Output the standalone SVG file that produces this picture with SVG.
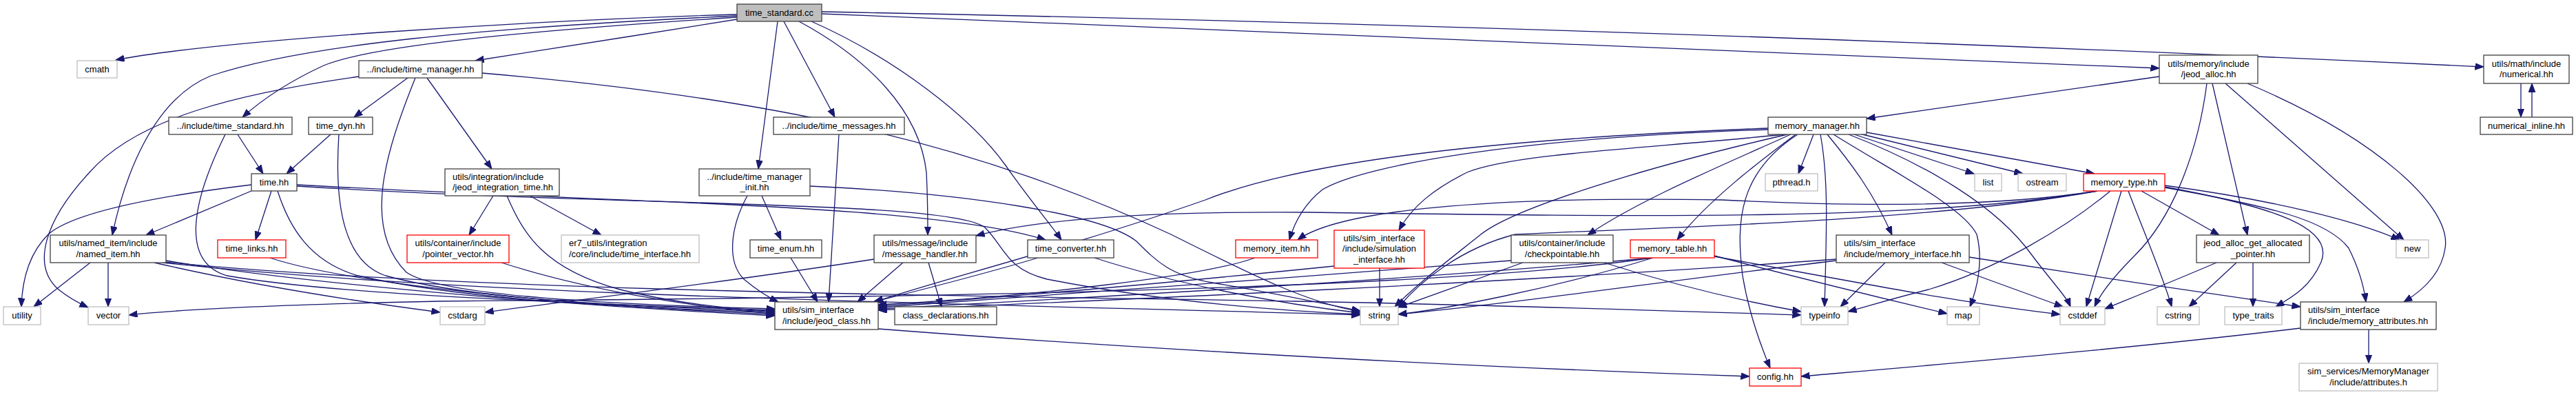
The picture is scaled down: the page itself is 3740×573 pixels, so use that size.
<svg xmlns="http://www.w3.org/2000/svg" width="3740" height="573" viewBox="0 0 3740 573">
<defs>
<marker id="ah" markerUnits="userSpaceOnUse" markerWidth="14" markerHeight="11" refX="12.5" refY="4.75" orient="auto"><path d="M0,0 L12.5,4.75 L0,9.5 Z" fill="#191970" stroke="#191970" stroke-width="1"/></marker>
</defs>
<style>
text{font-family:"Liberation Sans",Arial,Helvetica,sans-serif;font-size:13px;fill:#000}
.c{text-anchor:middle}
rect{stroke-width:1.3}
.n rect{fill:#fff;stroke:#404040}
.r rect{fill:#fff;stroke:#ff0000}
.g rect{fill:#fff;stroke:#bfbfbf}
.root rect{fill:#bfbfbf;stroke:#404040}
#edges path{fill:none;stroke:#191970;stroke-width:1.3;marker-end:url(#ah)}
</style>
<rect x="0" y="0" width="3740" height="573" fill="#fff"/>
<g id="edges">
<path d="M1070,21 C760,30 320,58 168,87"/>
<path d="M1070,28 C950,48 800,70 690,88"/>
<path d="M1070,25 C760,45 540,66 470,95 C420,118 380,145 352,170"/>
<path d="M1070,23 C700,40 440,65 306,110 C220,145 180,260 163,341"/>
<path d="M1129,31 L1101,245"/>
<path d="M1138,31 L1212,170"/>
<path d="M1160,31 C1260,85 1335,160 1345,250 C1347,290 1347,320 1347,341"/>
<path d="M1178,31 C1300,85 1410,170 1460,240 C1495,290 1525,325 1541,348"/>
<path d="M1193,20 L3135,99"/>
<path d="M1193,17 Q2400,40 3606,97"/>
<path d="M521,111 C350,135 200,170 130,250 C65,320 45,385 85,420 C100,432 115,440 128,446"/>
<path d="M592,113 L514,170"/>
<path d="M620,113 L714,245"/>
<path d="M603,113 C560,220 525,330 590,395 C640,430 900,442 1125,448"/>
<path d="M700,106 C1100,140 1400,200 1700,340 C1820,400 1900,440 1975,452"/>
<path d="M345,195 L382,252"/>
<path d="M327,195 C280,290 260,380 330,400 C500,430 900,442 1125,450"/>
<path d="M480,195 L416,252"/>
<path d="M492,195 C485,300 500,380 560,400 C700,438 950,445 1125,452"/>
<path d="M365,268 C250,282 110,305 70,340 C40,370 32,410 31,445"/>
<path d="M365,277 L212,341"/>
<path d="M394,277 L371,348"/>
<path d="M403,277 C420,330 450,380 520,400 C700,440 950,446 1125,454"/>
<path d="M431,268 C900,295 1350,295 1518,348"/>
<path d="M431,270 C900,300 1380,290 1430,330 C1460,360 1460,390 1520,405 C1700,440 1880,452 1975,456"/>
<path d="M392,374 C500,410 800,442 1125,456"/>
<path d="M131,381 L49,445"/>
<path d="M157,381 L157,445"/>
<path d="M224,381 C350,410 500,435 639,453"/>
<path d="M241,378 C500,420 900,447 1125,458"/>
<path d="M236,381 C700,432 1500,442 1975,457"/>
<path d="M238,380 C700,425 1500,430 1880,437 C2200,443 2450,452 2615,457"/>
<path d="M716,284 L681,341"/>
<path d="M769,284 L873,341"/>
<path d="M736,284 C760,340 790,390 900,420 C980,440 1060,448 1125,452"/>
<path d="M728,381 C850,420 1000,445 1125,455"/>
<path d="M1106,284 L1134,348"/>
<path d="M1085,284 C1060,330 1055,380 1080,405 C1098,420 1113,430 1130,438"/>
<path d="M1176,270 C1400,280 1600,310 1650,350 C1680,380 1700,400 1760,410 C1850,425 1920,440 1975,451"/>
<path d="M1148,374 L1187,438"/>
<path d="M1218,195 L1203,438"/>
<path d="M1269,376 C1050,410 800,440 704,453"/>
<path d="M1311,381 L1245,438"/>
<path d="M1348,381 L1367,445"/>
<path d="M1507,374 C1420,400 1320,425 1268,438"/>
<path d="M1589,374 C1700,410 1850,440 1975,454"/>
<path d="M3135,111 L2710,172"/>
<path d="M3212,121 L3263,341"/>
<path d="M3204,121 C3190,230 3150,320 3100,370 C3070,400 3050,425 3041,445"/>
<path d="M3231,121 L3490,348"/>
<path d="M3263,121 C3450,200 3560,300 3550,360 C3545,395 3520,420 3490,438"/>
<path d="M3660,121 L3660,170"/>
<path d="M3676,170 L3676,121"/>
<path d="M2567,186 C2200,200 1900,230 1750,290 C1550,360 1350,410 1270,438"/>
<path d="M2567,188 C2200,200 1980,240 1920,275 C1895,295 1880,320 1872,348"/>
<path d="M2590,195 C2400,215 2200,222 2130,250 C2080,275 2050,300 2031,334"/>
<path d="M2595,195 C2400,240 2200,300 2150,340 C2100,380 2060,410 2025,445"/>
<path d="M2600,195 C2500,240 2380,290 2305,341"/>
<path d="M2607,195 C2560,230 2480,290 2435,348"/>
<path d="M2633,195 L2611,252"/>
<path d="M2610,195 C2525,250 2520,320 2530,400 C2540,460 2560,510 2570,534"/>
<path d="M2643,195 C2655,260 2652,330 2649,445"/>
<path d="M2653,195 C2690,240 2720,280 2747,341"/>
<path d="M2662,195 C2750,250 2850,300 2870,340 C2880,380 2870,420 2860,445"/>
<path d="M2684,195 C2800,240 2900,300 2950,370 C2980,410 3000,430 3006,445"/>
<path d="M2692,195 L2866,252"/>
<path d="M2700,194 L2937,252"/>
<path d="M2710,192 L3041,252"/>
<path d="M3045,277 C2900,300 2700,300 2500,290 C2200,285 1950,300 1884,348"/>
<path d="M3045,277 C2800,320 2400,315 1900,308 C1650,306 1500,320 1417,342"/>
<path d="M3045,277 C2800,322 2400,330 2200,340 C2120,360 2060,410 2030,446"/>
<path d="M3064,277 C3000,330 2900,390 2800,420 C2740,435 2710,445 2683,452"/>
<path d="M3080,277 L3029,445"/>
<path d="M3109,277 L3222,341"/>
<path d="M3090,277 C3110,330 3140,400 3153,445"/>
<path d="M3143,271 C3300,300 3390,330 3370,380 C3355,415 3330,430 3304,445"/>
<path d="M3143,272 C3300,300 3380,320 3410,360 C3425,390 3432,415 3435,438"/>
<path d="M3143,269 C3300,290 3420,320 3484,348"/>
<path d="M1822,374 C1750,400 1500,430 1275,442"/>
<path d="M1937,386 C1700,410 1450,432 1275,444"/>
<path d="M2003,389 L2003,445"/>
<path d="M2194,378 C1900,400 1500,432 1275,446"/>
<path d="M2211,381 C2130,410 2070,432 2030,446"/>
<path d="M2329,381 C2420,410 2520,435 2615,452"/>
<path d="M2400,374 C2000,410 1500,436 1275,448"/>
<path d="M2400,374 C2250,420 2100,448 2030,456"/>
<path d="M2398,374 C2100,420 1300,432 640,437 C400,442 250,450 187,457"/>
<path d="M2489,371 C2600,400 2730,432 2827,455"/>
<path d="M2489,372 C2700,410 2850,440 2991,456"/>
<path d="M2666,376 C2200,410 1600,436 1275,450"/>
<path d="M2666,378 C2400,410 2200,440 2030,456"/>
<path d="M2737,381 L2672,445"/>
<path d="M2819,381 L2995,445"/>
<path d="M2859,373 C3000,395 3200,425 3340,445"/>
<path d="M3247,381 L3178,445"/>
<path d="M3271,381 L3271,445"/>
<path d="M3218,381 C3150,410 3100,430 3056,448"/>
<path d="M3439,478 L3439,527"/>
<path d="M3340,476 C3100,505 2800,530 2615,546"/>
<path d="M1275,477 C1700,510 2200,535 2540,546"/>
</g>
<g id="n_time_standard_cc" class="root"><rect x="1070" y="6" width="123" height="25"/><text class="c" x="1131.5" y="22.5">time_standard.cc</text></g>
<g id="n_cmath" class="g"><rect x="112" y="88" width="58" height="25"/><text class="c" x="141" y="104.5">cmath</text></g>
<g id="n_time_manager" class="n"><rect x="521" y="88" width="179" height="25"/><text class="c" x="610.5" y="104.5">../include/time_manager.hh</text></g>
<g id="n_jeod_alloc" class="n"><rect x="3135" y="80" width="143" height="41"/><text class="c" x="3206.5" y="96.5">utils/memory/include</text><text class="c" x="3206.5" y="112">/jeod_alloc.hh</text></g>
<g id="n_numerical" class="n"><rect x="3606" y="80" width="124" height="41"/><text class="c" x="3668" y="96.5">utils/math/include</text><text class="c" x="3668" y="112">/numerical.hh</text></g>
<g id="n_time_standard_hh" class="n"><rect x="245" y="170" width="179" height="25"/><text class="c" x="334.5" y="186.5">../include/time_standard.hh</text></g>
<g id="n_time_dyn" class="n"><rect x="448" y="170" width="93" height="25"/><text class="c" x="494.5" y="186.5">time_dyn.hh</text></g>
<g id="n_time_messages" class="n"><rect x="1123" y="170" width="190" height="25"/><text class="c" x="1218" y="186.5">../include/time_messages.hh</text></g>
<g id="n_memory_manager" class="n"><rect x="2567" y="170" width="143" height="25"/><text class="c" x="2638.5" y="186.5">memory_manager.hh</text></g>
<g id="n_numerical_inline" class="n"><rect x="3601" y="170" width="134" height="25"/><text class="c" x="3668" y="186.5">numerical_inline.hh</text></g>
<g id="n_time" class="n"><rect x="365" y="252" width="66" height="25"/><text class="c" x="398" y="268.5">time.hh</text></g>
<g id="n_jeod_integration_time" class="n"><rect x="646" y="245" width="166" height="39"/><text x="657" y="260.5">utils/integration/include</text><text x="657" y="276">/jeod_integration_time.hh</text></g>
<g id="n_time_manager_init" class="n"><rect x="1015" y="245" width="161" height="39"/><text class="c" x="1095.5" y="260.5">../include/time_manager</text><text class="c" x="1095.5" y="276">_init.hh</text></g>
<g id="n_pthread" class="g"><rect x="2563" y="252" width="76" height="25"/><text class="c" x="2601" y="268.5">pthread.h</text></g>
<g id="n_list" class="g"><rect x="2867" y="252" width="39" height="25"/><text class="c" x="2886.5" y="268.5">list</text></g>
<g id="n_ostream" class="g"><rect x="2930" y="252" width="70" height="25"/><text class="c" x="2965" y="268.5">ostream</text></g>
<g id="n_memory_type" class="r"><rect x="3025" y="252" width="118" height="25"/><text class="c" x="3084" y="268.5">memory_type.hh</text></g>
<g id="n_named_item" class="n"><rect x="73" y="341" width="168" height="40"/><text class="c" x="157" y="357">utils/named_item/include</text><text class="c" x="157" y="372.5">/named_item.hh</text></g>
<g id="n_time_links" class="r"><rect x="316" y="348" width="99" height="26"/><text class="c" x="365.5" y="365">time_links.hh</text></g>
<g id="n_pointer_vector" class="r"><rect x="591" y="341" width="148" height="40"/><text class="c" x="665" y="357">utils/container/include</text><text class="c" x="665" y="372.5">/pointer_vector.hh</text></g>
<g id="n_time_interface" class="g"><rect x="815" y="341" width="200" height="40"/><text x="826" y="357">er7_utils/integration</text><text x="826" y="372.5">/core/include/time_interface.hh</text></g>
<g id="n_time_enum" class="n"><rect x="1089" y="348" width="104" height="26"/><text class="c" x="1141" y="365">time_enum.hh</text></g>
<g id="n_message_handler" class="n"><rect x="1269" y="341" width="148" height="40"/><text class="c" x="1343" y="357">utils/message/include</text><text class="c" x="1343" y="372.5">/message_handler.hh</text></g>
<g id="n_time_converter" class="n"><rect x="1492" y="348" width="125" height="26"/><text class="c" x="1554.5" y="365">time_converter.hh</text></g>
<g id="n_memory_item" class="r"><rect x="1794" y="348" width="119" height="26"/><text class="c" x="1853.5" y="365">memory_item.hh</text></g>
<g id="n_simulation_interface" class="r"><rect x="1937" y="334" width="131" height="55"/><text class="c" x="2002.5" y="349.5">utils/sim_interface</text><text class="c" x="2002.5" y="365">/include/simulation</text><text class="c" x="2002.5" y="380.5">_interface.hh</text></g>
<g id="n_checkpointable" class="n"><rect x="2194" y="341" width="148" height="40"/><text class="c" x="2268" y="357">utils/container/include</text><text class="c" x="2268" y="372.5">/checkpointable.hh</text></g>
<g id="n_memory_table" class="r"><rect x="2367" y="348" width="122" height="26"/><text class="c" x="2428" y="365">memory_table.hh</text></g>
<g id="n_memory_interface" class="n"><rect x="2666" y="341" width="193" height="40"/><text x="2677" y="357">utils/sim_interface</text><text x="2677" y="372.5">/include/memory_interface.hh</text></g>
<g id="n_jeod_alloc_get_allocated_pointer" class="n"><rect x="3189" y="341" width="164" height="40"/><text class="c" x="3271" y="357">jeod_alloc_get_allocated</text><text class="c" x="3271" y="372.5">_pointer.hh</text></g>
<g id="n_new" class="g"><rect x="3479" y="348" width="47" height="26"/><text class="c" x="3502.5" y="365">new</text></g>
<g id="n_utility" class="g"><rect x="5" y="445" width="54" height="26"/><text class="c" x="32" y="462">utility</text></g>
<g id="n_vector" class="g"><rect x="128" y="445" width="59" height="26"/><text class="c" x="157.5" y="462">vector</text></g>
<g id="n_cstdarg" class="g"><rect x="639" y="445" width="65" height="26"/><text class="c" x="671.5" y="462">cstdarg</text></g>
<g id="n_jeod_class" class="n"><rect x="1125" y="438" width="150" height="40"/><text x="1136" y="454">utils/sim_interface</text><text x="1136" y="469.5">/include/jeod_class.hh</text></g>
<g id="n_class_declarations" class="n"><rect x="1299" y="445" width="148" height="26"/><text class="c" x="1373" y="462">class_declarations.hh</text></g>
<g id="n_string" class="g"><rect x="1975" y="445" width="55" height="26"/><text class="c" x="2002.5" y="462">string</text></g>
<g id="n_typeinfo" class="g"><rect x="2615" y="445" width="68" height="26"/><text class="c" x="2649" y="462">typeinfo</text></g>
<g id="n_map" class="g"><rect x="2827" y="445" width="47" height="26"/><text class="c" x="2850.5" y="462">map</text></g>
<g id="n_cstddef" class="g"><rect x="2991" y="445" width="65" height="26"/><text class="c" x="3023.5" y="462">cstddef</text></g>
<g id="n_cstring" class="g"><rect x="3132" y="445" width="61" height="26"/><text class="c" x="3162.5" y="462">cstring</text></g>
<g id="n_type_traits" class="g"><rect x="3230" y="445" width="83" height="26"/><text class="c" x="3271.5" y="462">type_traits</text></g>
<g id="n_memory_attributes" class="n"><rect x="3340" y="438" width="197" height="40"/><text x="3351" y="454">utils/sim_interface</text><text x="3351" y="469.5">/include/memory_attributes.hh</text></g>
<g id="n_config" class="r"><rect x="2540" y="534" width="75" height="26"/><text class="c" x="2577.5" y="551">config.hh</text></g>
<g id="n_attributes" class="g"><rect x="3338" y="527" width="201" height="40"/><text class="c" x="3438.5" y="543">sim_services/MemoryManager</text><text class="c" x="3438.5" y="558.5">/include/attributes.h</text></g>
</svg>
